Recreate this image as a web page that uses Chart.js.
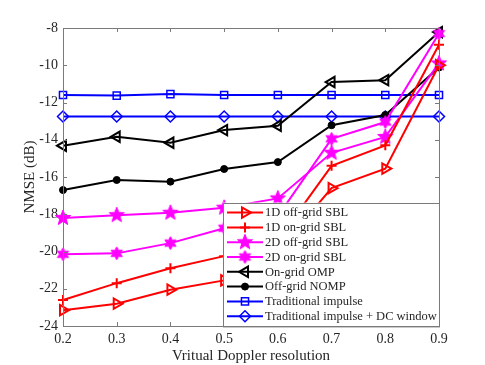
<!DOCTYPE html>
<html lang="en">
<head>
  <meta charset="UTF-8" />
  <title>NMSE vs virtual Doppler resolution</title>
  <script src="https://cdn.jsdelivr.net/npm/chart.js"></script>
  <style>
    body {
      margin: 0;
      background: #ffffff;
    }
    #wrap {
      width: 485px;
      height: 365px;
    }
  </style>
</head>
<body>
  <div id="wrap">
    <canvas id="nmseChart" width="485" height="365"></canvas>
  </div>

  <script>
    // x positions (virtual Doppler resolution)
    const resolution = [0.2, 0.3, 0.4, 0.5, 0.6, 0.7, 0.8, 0.9];

    // NMSE in dB
    const offGrid1D = [-23.15, -22.8, -22.05, -21.55, -20.0, -16.6, -15.55, -10.0];
    const onGrid1D  = [-22.6, -21.7, -20.9, -20.25, -19.4, -15.4, -14.3, -8.9];
    const offGrid2D = [-18.2, -18.05, -17.92, -17.65, -17.15, -14.7, -13.85, -9.9];
    const onGrid2D  = [-20.15, -20.1, -19.55, -18.75, -18.1, -13.95, -13.05, -8.3];
    const ompGrid   = [-14.32, -13.84, -14.16, -13.48, -13.25, -10.9, -10.8, -8.22];
    const nompGrid  = [-16.7, -16.16, -16.25, -15.57, -15.2, -13.22, -12.67, -10.12];
    const impulse   = [-11.6, -11.63, -11.55, -11.6, -11.6, -11.6, -11.6, -11.6];
    const dcWindow  = [-12.75, -12.75, -12.75, -12.75, -12.75, -12.75, -12.75, -12.75];

    const labels = [
      '1D off-grid SBL', '1D on-grid SBL', '2D off-grid SBL', '2D on-grid SBL',
      'On-grid OMP', 'Off-grid NOMP', 'Traditional impulse', 'Traditional impulse + DC window'
    ];

    const xTicks = [0.2, 0.3, 0.4, 0.5, 0.6, 0.7, 0.8, 0.9];
    const yTicks = [-24, -22, -20, -18, -16, -14, -12, -10, -8];

    const serif = '"Liberation Serif", "DejaVu Serif", serif';

    // filled star markers (MATLAB pentagram / hexagram)
    function makeStar(points, outer, inner, color) {
      const size = Math.ceil(outer * 2 + 2);
      const c = document.createElement('canvas');
      c.width = size;
      c.height = size;
      const g = c.getContext('2d');
      const cx = size / 2, cy = size / 2;
      g.beginPath();
      for (let i = 0; i < points * 2; i++) {
        const r = i % 2 === 0 ? outer : inner;
        const a = -Math.PI / 2 + i * Math.PI / points;
        const px = cx + r * Math.cos(a);
        const py = cy + r * Math.sin(a);
        if (i === 0) g.moveTo(px, py); else g.lineTo(px, py);
      }
      g.closePath();
      g.fillStyle = color;
      g.fill();
      g.strokeStyle = color;
      g.lineWidth = 1;
      g.stroke();
      return c;
    }

    const pentagram = makeStar(5, 8, 3.4, '#ff00ff');
    const hexagram = makeStar(6, 6.5, 3.6, '#ff00ff');

    function series(values) {
      return values.map((v, i) => ({ x: resolution[i], y: v }));
    }

    const datasets = [
      { label: labels[0], data: series(offGrid1D), borderColor: '#ff0000', pointStyle: 'triangle', rotation: 90, pointRadius: 6, pointBackgroundColor: 'rgba(0,0,0,0)', pointBorderColor: '#ff0000', pointBorderWidth: 2 },
      { label: labels[1], data: series(onGrid1D), borderColor: '#ff0000', pointStyle: 'cross', rotation: 0, pointRadius: 5, pointBorderColor: '#ff0000', pointBorderWidth: 2 },
      { label: labels[2], data: series(offGrid2D), borderColor: '#ff00ff', pointStyle: pentagram, rotation: 0, pointRadius: 8 },
      { label: labels[3], data: series(onGrid2D), borderColor: '#ff00ff', pointStyle: hexagram, rotation: 0, pointRadius: 6 },
      { label: labels[4], data: series(ompGrid), borderColor: '#000000', pointStyle: 'triangle', rotation: -90, pointRadius: 6, pointBackgroundColor: 'rgba(0,0,0,0)', pointBorderColor: '#000000', pointBorderWidth: 2 },
      { label: labels[5], data: series(nompGrid), borderColor: '#000000', pointStyle: 'circle', rotation: 0, pointRadius: 3.5, pointBackgroundColor: '#000000', pointBorderColor: '#000000', pointBorderWidth: 1 },
      { label: labels[6], data: series(impulse), borderColor: '#0000ff', pointStyle: 'rect', rotation: 0, pointRadius: 5, pointBackgroundColor: 'rgba(0,0,0,0)', pointBorderColor: '#0000ff', pointBorderWidth: 1.5 },
      { label: labels[7], data: series(dcWindow), borderColor: '#0000ff', pointStyle: 'rectRot', rotation: 0, pointRadius: 5.5, pointBackgroundColor: 'rgba(0,0,0,0)', pointBorderColor: '#0000ff', pointBorderWidth: 1.5 }
    ];
    datasets.forEach(d => {
      d.borderWidth = 2;
      d.fill = false;
      d.tension = 0;
      d.clip = false;
      d.pointHoverRadius = d.pointRadius;
    });

    // MATLAB-like box with inward ticks on all four sides
    const boxPlugin = {
      id: 'matlabBox',
      afterDatasetsDraw(chart) {
        const { ctx, chartArea: a, scales } = chart;
        ctx.save();
        ctx.strokeStyle = '#7a7a7a';
        ctx.lineWidth = 1;
        ctx.strokeRect(a.left + 0.5, a.top + 0.5, a.right - a.left, a.bottom - a.top);
        ctx.beginPath();
        xTicks.forEach(t => {
          const px = Math.round(scales.x.getPixelForValue(t)) + 0.5;
          ctx.moveTo(px, a.bottom); ctx.lineTo(px, a.bottom - 4);
          ctx.moveTo(px, a.top); ctx.lineTo(px, a.top + 4);
        });
        yTicks.forEach(t => {
          const py = Math.round(scales.y.getPixelForValue(t)) + 0.5;
          ctx.moveTo(a.left, py); ctx.lineTo(a.left + 4, py);
          ctx.moveTo(a.right, py); ctx.lineTo(a.right - 4, py);
        });
        ctx.stroke();
        ctx.restore();
      }
    };

    // legend box in the lower right corner, drawn with line + marker like MATLAB
    const legendPlugin = {
      id: 'insideLegend',
      afterDraw(chart) {
        const { ctx, chartArea: a } = chart;
        const w = 216, rowH = 14.8, h = rowH * datasets.length + 5;
        const x0 = a.right - w, y0 = a.bottom - h;
        ctx.save();
        ctx.fillStyle = '#ffffff';
        ctx.fillRect(x0, y0, w, h);
        ctx.strokeStyle = '#7a7a7a';
        ctx.lineWidth = 1;
        ctx.strokeRect(Math.round(x0) + 0.5, Math.round(y0) + 0.5, w, h);
        ctx.font = '12.5px ' + serif;
        ctx.textBaseline = 'middle';
        datasets.forEach((d, i) => {
          const cy = y0 + 10 + i * rowH;
          ctx.strokeStyle = d.borderColor;
          ctx.lineWidth = 2;
          ctx.beginPath();
          ctx.moveTo(x0 + 4, cy);
          ctx.lineTo(x0 + 40, cy);
          ctx.stroke();
          const mx = x0 + 22;
          if (d.pointStyle instanceof HTMLCanvasElement) {
            ctx.drawImage(d.pointStyle, mx - d.pointStyle.width / 2, cy - d.pointStyle.height / 2);
          } else {
            ctx.fillStyle = d.pointBackgroundColor || d.borderColor;
            ctx.strokeStyle = d.pointBorderColor || d.borderColor;
            ctx.lineWidth = d.pointBorderWidth || 1;
            Chart.helpers.drawPoint(ctx, {
              pointStyle: d.pointStyle,
              rotation: d.rotation,
              radius: d.pointRadius,
              borderWidth: d.pointBorderWidth || 1
            }, mx, cy);
          }
          ctx.fillStyle = '#262626';
          ctx.fillText(d.label, x0 + 42, cy + 0.5);
        });
        ctx.restore();
      }
    };

    new Chart(document.getElementById('nmseChart'), {
      type: 'line',
      data: { datasets: datasets },
      options: {
        responsive: false,
        animation: false,
        events: [],
        layout: { padding: { left: 0, top: 28, right: 46, bottom: 0 } },
        plugins: {
          legend: { display: false },
          tooltip: { enabled: false }
        },
        scales: {
          x: {
            type: 'linear',
            min: 0.2,
            max: 0.9,
            afterBuildTicks: scale => { scale.ticks = xTicks.map(v => ({ value: v })); },
            afterFit: scale => { scale.height = 39; },
            grid: { display: false, drawTicks: false },
            border: { display: false },
            ticks: {
              padding: 5,
              color: '#262626',
              font: { family: serif, size: 14 },
              callback: v => v.toFixed(1)
            },
            title: {
              display: true,
              text: 'Vritual Doppler resolution',
              color: '#262626',
              font: { family: serif, size: 15 },
              padding: { top: 0, bottom: 0 }
            }
          },
          y: {
            type: 'linear',
            min: -24,
            max: -8,
            afterBuildTicks: scale => { scale.ticks = yTicks.map(v => ({ value: v })); },
            afterFit: scale => { scale.width = 63; },
            grid: { display: false, drawTicks: false },
            border: { display: false },
            ticks: {
              padding: 5,
              color: '#262626',
              font: { family: serif, size: 14 },
              callback: v => String(v)
            },
            title: {
              display: true,
              text: 'NMSE (dB)',
              color: '#262626',
              font: { family: serif, size: 15 },
              padding: { top: 21, bottom: 0 }
            }
          }
        }
      },
      plugins: [boxPlugin, legendPlugin]
    });
  </script>
</body>
</html>
